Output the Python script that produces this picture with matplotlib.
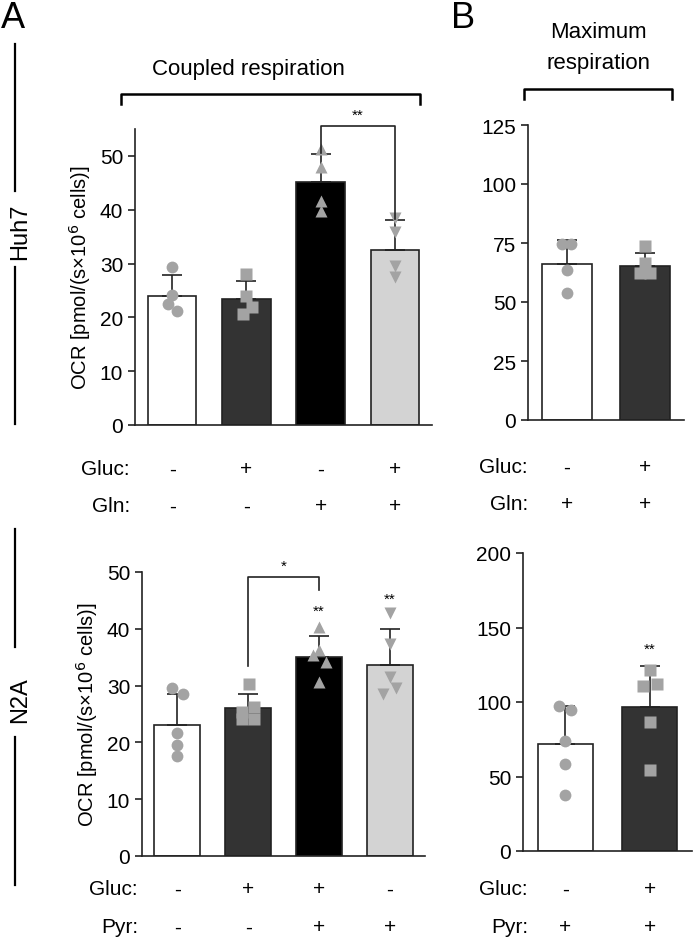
import matplotlib.pyplot as plt
from matplotlib.transforms import blended_transform_factory
import numpy as np

plt.rcParams['font.family'] = ['Liberation Sans', 'DejaVu Sans']

# Huh7, coupled respiration (OCR)
huh7_cpl_mean = [24.0, 23.4, 45.1, 32.5]
huh7_cpl_sd = [3.8, 3.4, 5.3, 5.5]
huh7_cpl_pts = [[29.4, 24.2, 22.5, 21.1],
                [28.1, 23.9, 21.9, 20.6],
                [51.3, 47.9, 41.7, 39.8],
                [38.5, 35.8, 29.6, 27.5]]
huh7_cpl_gluc = ['-', '+', '-', '+']
huh7_cpl_gln = ['-', '-', '+', '+']

# Huh7, maximum respiration
huh7_max_mean = [66.3, 65.3]
huh7_max_sd = [10.0, 5.6]
huh7_max_pts = [[74.7, 74.7, 63.4, 53.8],
                [73.7, 66.7, 62.2, 62.2]]
huh7_max_gluc = ['-', '+']
huh7_max_gln = ['+', '+']

# N2A, coupled respiration
n2a_cpl_mean = [23.1, 26.1, 35.0, 33.7]
n2a_cpl_sd = [5.5, 2.5, 3.7, 6.2]
n2a_cpl_pts = [[29.5, 28.5, 21.6, 19.6, 17.6],
               [30.2, 26.2, 25.4, 24.2, 24.1],
               [40.3, 36.2, 35.3, 34.2, 30.7],
               [42.8, 37.4, 31.5, 29.6, 28.6]]
n2a_cpl_gluc = ['-', '+', '+', '-']
n2a_cpl_pyr = ['-', '-', '+', '+']

# N2A, maximum respiration
n2a_max_mean = [71.7, 96.4]
n2a_max_sd = [25.7, 27.5]
n2a_max_pts = [[97.4, 94.8, 73.5, 58.3, 37.4],
               [121.4, 112.0, 110.5, 86.3, 54.2]]
n2a_max_gluc = ['-', '+']
n2a_max_pyr = ['+', '+']

# small horizontal scatter of the dots (style only)
jit_huh7_cpl = [[0, 0, -0.06, 0.07], [0, 0, 0.07, -0.05], [0, 0, 0, 0], [0, 0, 0, 0]]
jit_huh7_max = [[-0.07, 0.05, 0, 0], [0, 0, -0.06, 0.06]]
jit_n2a_cpl = [[-0.08, 0.08, 0, 0, 0], [0.01, 0.09, -0.09, 0.09, -0.09],
               [0, 0, -0.09, 0.1, 0], [0, 0, 0, 0.09, -0.09]]
jit_n2a_max = [[-0.07, 0.07, 0, 0, 0], [0, 0.08, -0.08, 0, 0]]

W, H = 693, 945
fig = plt.figure(figsize=(W / 100, H / 100), dpi=100)

bar_cols = ['white', '#333333', 'black', '#d3d3d3']
marks = ['o', 's', '^', 'v']
dot_col = '#a3a3a3'
fs = 15


def px(x, y):
    return x / W, 1 - y / H


def panel(rect, means, sds, pts, jit, ylim, yticks, ylabel=None):
    l, t, r, b = rect
    ax = fig.add_axes([l / W, 1 - b / H, (r - l) / W, (b - t) / H])
    n = len(means)
    x = np.arange(n)
    ax.bar(x, means, width=0.65, color=bar_cols[:n], edgecolor='#222222',
           linewidth=1.2, zorder=2)
    ax.errorbar(x, means, yerr=[np.zeros(n), sds], fmt='none', ecolor='#222222',
                elinewidth=1.2, capsize=7, capthick=1.2, zorder=3)
    for i in range(n):
        ax.plot(x[i] + np.array(jit[i]), pts[i], linestyle='none', marker=marks[i],
                ms=8.5, color=dot_col, mec='none', zorder=4)
    ax.set_xlim(-0.5, n - 0.5)
    ax.set_ylim(*ylim)
    ax.set_yticks(yticks)
    ax.set_xticks([])
    for s in ['top', 'right']:
        ax.spines[s].set_visible(False)
    for s in ['left', 'bottom']:
        ax.spines[s].set_linewidth(1.2)
        ax.spines[s].set_color('#222222')
    ax.tick_params(axis='y', labelsize=fs, width=1.2, length=5, color='#222222')
    if ylabel:
        ax.set_ylabel(ylabel, fontsize=14.5, labelpad=5)
    return ax


def cond_rows(ax, label_x, rows):
    tr = blended_transform_factory(ax.transData, fig.transFigure)
    for name, vals, y in rows:
        fig.text(*px(label_x, y), name, fontsize=fs, ha='right', va='center')
        for i, v in enumerate(vals):
            ax.text(i, 1 - y / H, v, transform=tr, fontsize=fs, ha='center', va='center')


ylab = 'OCR [pmol/(s\u00d710$^6$ cells)]'

ax1 = panel((135, 130, 432, 426), huh7_cpl_mean, huh7_cpl_sd, huh7_cpl_pts, jit_huh7_cpl,
            (0, 55), range(0, 51, 10), ylab)
ax2 = panel((528, 126, 684, 421), huh7_max_mean, huh7_max_sd, huh7_max_pts, jit_huh7_max,
            (0, 125), range(0, 126, 25))
ax3 = panel((142, 573, 425, 857), n2a_cpl_mean, n2a_cpl_sd, n2a_cpl_pts, jit_n2a_cpl,
            (0, 50), range(0, 51, 10), ylab)
ax4 = panel((523, 554, 692, 852), n2a_max_mean, n2a_max_sd, n2a_max_pts, jit_n2a_max,
            (0, 200), range(0, 201, 50))

cond_rows(ax1, 130, [('Gluc:', huh7_cpl_gluc, 470), ('Gln:', huh7_cpl_gln, 507)])
cond_rows(ax2, 528, [('Gluc:', huh7_max_gluc, 468), ('Gln:', huh7_max_gln, 505)])
cond_rows(ax3, 138, [('Gluc:', n2a_cpl_gluc, 890), ('Pyr:', n2a_cpl_pyr, 928)])
cond_rows(ax4, 528, [('Gluc:', n2a_max_gluc, 890), ('Pyr:', n2a_max_pyr, 928)])

# significance marks
lk = dict(color='#222222', lw=1.2, clip_on=False, zorder=5)
ax1.plot([2, 2, 3, 3], [50.6, 55.6, 55.6, 38.3], **lk)
ax1.text(2.5, 56.3, '**', ha='center', va='bottom', fontsize=11)
ax3.plot([1, 1, 2, 2], [33.5, 49.1, 49.1, 46.8], **lk)
ax3.text(1.5, 49.8, '*', ha='center', va='bottom', fontsize=11)
ax3.text(2, 42.0, '**', ha='center', va='bottom', fontsize=11)
ax3.text(3, 44.1, '**', ha='center', va='bottom', fontsize=11)
ax4.text(1, 131, '**', ha='center', va='bottom', fontsize=11)

# panel titles, brackets and cell-line labels
fig.text(*px(1, 1), 'A', fontsize=26, ha='left', va='top')
fig.text(*px(451, 1), 'B', fontsize=26, ha='left', va='top')
fig.text(*px(248, 70), 'Coupled respiration', fontsize=fs + 1, ha='center', va='center')
fig.text(*px(598, 32), 'Maximum', fontsize=fs + 1, ha='center', va='center')
fig.text(*px(598, 64), 'respiration', fontsize=fs + 1, ha='center', va='center')


def fline(xs, ys, lw=1.8):
    fig.add_artist(plt.Line2D([v / W for v in xs], [1 - v / H for v in ys],
                              color='black', lw=lw, transform=fig.transFigure))


fline([121, 121, 420, 420], [105, 95, 95, 105])
fline([524, 524, 672, 672], [100, 90, 90, 100])

fline([15, 15], [45, 192], lw=1.6)
fline([15, 15], [268, 425], lw=1.6)
fig.text(*px(20, 232), 'Huh7', fontsize=17, rotation=90, ha='center', va='center')
fline([15, 15], [530, 648], lw=1.6)
fline([15, 15], [738, 886], lw=1.6)
fig.text(*px(20, 700), 'N2A', fontsize=17, rotation=90, ha='center', va='center')

fig.savefig('out.png', dpi=100)
